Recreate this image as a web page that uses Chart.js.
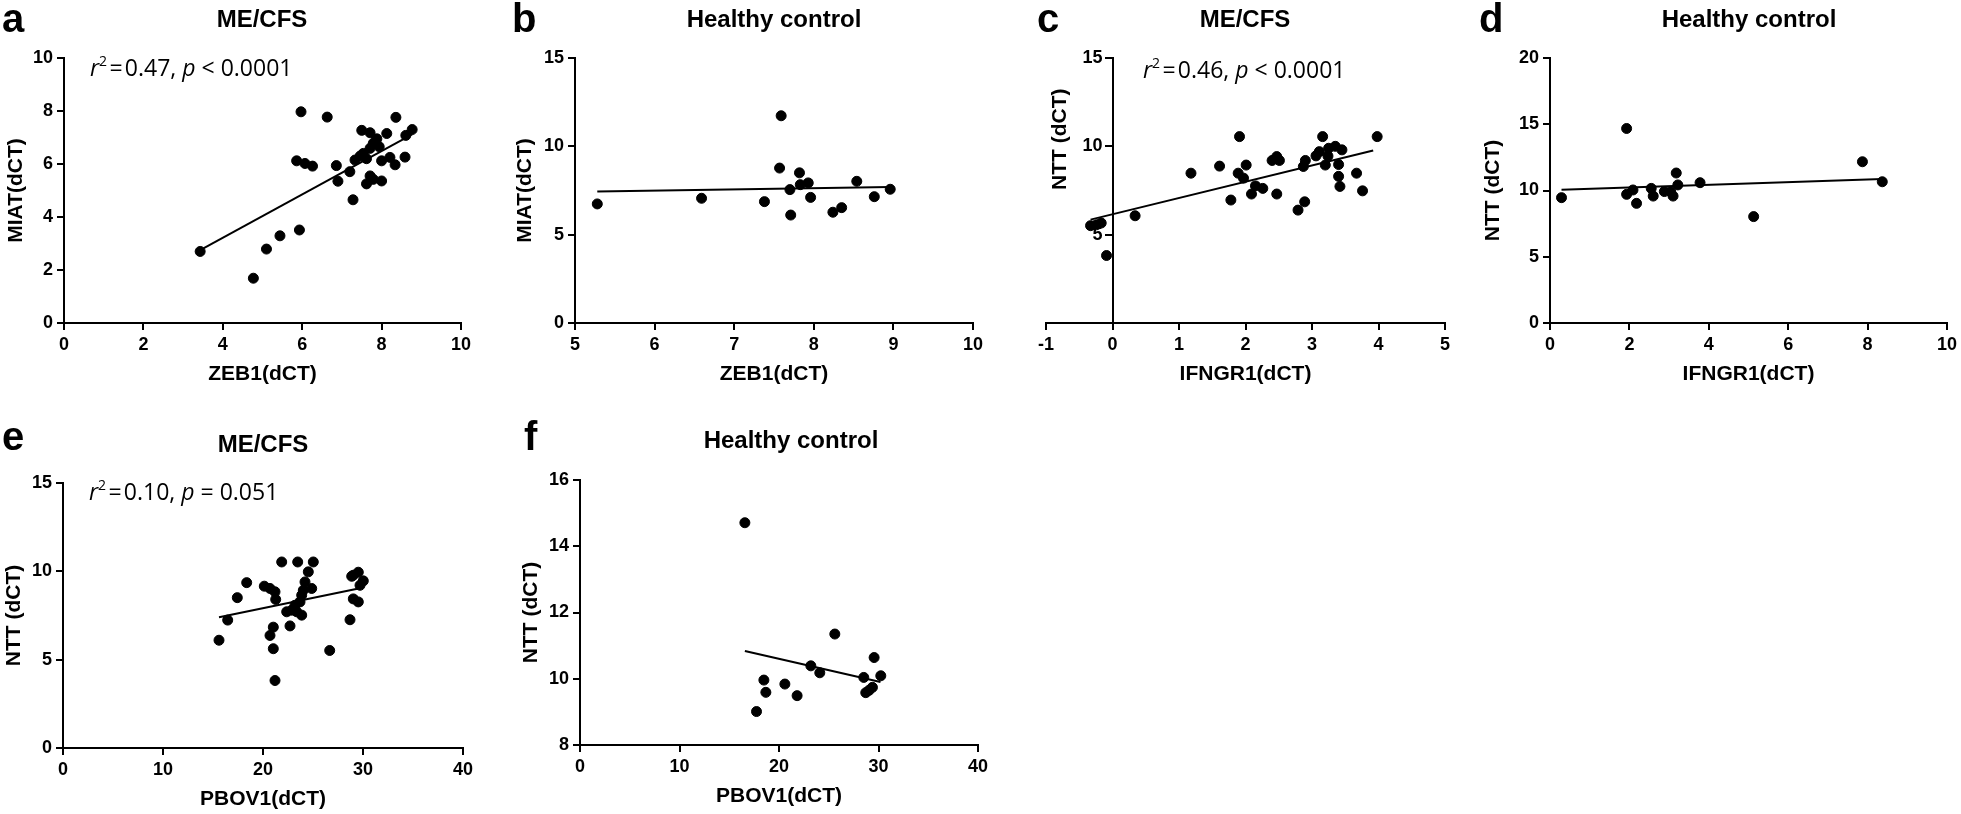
<!DOCTYPE html>
<html>
<head>
<meta charset="utf-8">
<script src="https://cdn.jsdelivr.net/npm/chart.js@4.4.1/dist/chart.umd.min.js"></script>
<style>
  html, body { margin: 0; padding: 0; background: #fff; }
  #page { position: relative; width: 1961px; height: 814px; overflow: hidden; }
  #page canvas { position: absolute; }
</style>
</head>
<body>
<div id="page">
  <canvas id="chartA"></canvas>
  <canvas id="chartB"></canvas>
  <canvas id="chartC"></canvas>
  <canvas id="chartD"></canvas>
  <canvas id="chartE"></canvas>
  <canvas id="chartF"></canvas>
</div>
<script>
// ---- data: [x, y] pairs, fit line end points, tick values ----

// a: ME/CFS, ZEB1 vs MIAT
const meZebMiat = [
  [3.43, 2.70], [4.77, 1.69], [5.10, 2.79], [5.44, 3.29], [5.93, 3.51], [5.97, 7.97],
  [5.86, 6.12], [6.07, 6.02], [6.26, 5.92], [6.63, 7.77], [6.86, 5.94], [6.90, 5.35],
  [7.20, 5.71], [7.28, 4.65], [7.33, 6.15], [7.50, 7.27], [7.46, 6.30], [7.54, 6.40],
  [7.62, 6.20], [7.62, 5.25], [7.71, 7.18], [7.71, 5.55], [7.79, 5.42], [7.71, 6.59],
  [7.79, 6.78], [7.88, 6.95], [7.94, 6.65], [8.00, 5.36], [8.00, 6.12], [8.13, 7.15],
  [8.21, 6.25], [8.34, 5.97], [8.36, 7.76], [8.59, 6.26], [8.61, 7.08], [8.77, 7.30]
];
const meZebMiatFit = [[3.43, 2.75], [8.77, 7.12]];
const aXTicks = [0, 2, 4, 6, 8, 10];
const aYTicks = [0, 2, 4, 6, 8, 10];

// b: healthy control, ZEB1 vs MIAT
const hcZebMiat = [
  [5.28, 6.74], [6.59, 7.06], [7.38, 6.87], [7.59, 11.73], [7.57, 8.77], [7.70, 7.55],
  [7.71, 6.11], [7.82, 8.50], [7.83, 7.83], [7.93, 7.93], [7.96, 7.11], [8.24, 6.27],
  [8.35, 6.53], [8.54, 8.02], [8.76, 7.15], [8.96, 7.57]
];
const hcZebMiatFit = [[5.28, 7.45], [8.96, 7.70]];
const bXTicks = [5, 6, 7, 8, 9, 10];
const bYTicks = [0, 5, 10, 15];

// c: ME/CFS, IFNGR1 vs NTT
const meIfnNtt = [
  [-0.33, 5.51], [-0.24, 5.56], [-0.17, 5.66], [-0.09, 3.82], [0.34, 6.07], [1.18, 8.48],
  [1.61, 8.88], [1.91, 10.55], [1.89, 8.48], [1.97, 8.20], [1.78, 6.96], [2.01, 8.94],
  [2.09, 7.30], [2.15, 7.76], [2.26, 7.62], [2.40, 9.20], [2.47, 9.42], [2.51, 9.20],
  [2.47, 7.30], [2.79, 6.39], [2.89, 6.86], [2.87, 8.86], [2.90, 9.20], [3.06, 9.46],
  [3.11, 9.70], [3.16, 10.55], [3.20, 8.94], [3.24, 9.45], [3.25, 9.89], [3.35, 10.00],
  [3.45, 9.80], [3.40, 8.97], [3.40, 8.30], [3.42, 7.73], [3.67, 8.48], [3.76, 7.48],
  [3.98, 10.55]
];
const meIfnNttFit = [[-0.33, 5.85], [3.92, 9.76]];
const cXTicks = [-1, 0, 1, 2, 3, 4, 5];
const cYTicks = [0, 5, 10, 15];

// d: healthy control, IFNGR1 vs NTT
const hcIfnNtt = [
  [0.29, 9.46], [1.93, 14.68], [1.93, 9.71], [2.09, 10.04], [2.18, 9.03], [2.55, 10.16],
  [2.60, 9.58], [2.88, 9.92], [3.04, 9.90], [3.10, 9.58], [3.18, 11.32], [3.22, 10.42],
  [3.78, 10.59], [5.13, 8.03], [7.87, 12.17], [8.37, 10.66]
];
const hcIfnNttFit = [[0.29, 10.05], [8.37, 10.87]];
const dXTicks = [0, 2, 4, 6, 8, 10];
const dYTicks = [0, 5, 10, 15, 20];

// e: ME/CFS, PBOV1 vs NTT
const mePbovNtt = [
  [15.60, 6.10], [16.47, 7.24], [17.43, 8.51], [18.37, 9.36], [20.13, 9.16], [20.70, 9.03],
  [21.20, 8.84], [21.27, 8.41], [20.70, 6.37], [21.03, 6.84], [21.03, 5.62], [21.20, 3.82],
  [21.87, 10.53], [22.37, 7.71], [22.87, 7.80], [22.70, 6.91], [23.37, 7.71], [23.20, 8.08],
  [23.47, 10.53], [23.70, 8.27], [23.87, 8.65], [23.87, 7.52], [24.03, 8.93], [24.20, 9.40],
  [24.53, 9.97], [24.87, 9.03], [25.03, 10.53], [26.67, 5.52], [28.70, 7.26], [28.87, 9.72],
  [29.03, 9.78], [29.53, 9.95], [29.70, 9.21], [30.03, 9.46], [29.03, 8.44], [29.53, 8.27]
];
const mePbovNttFit = [[15.6, 7.40], [29.8, 9.06]];
const eXTicks = [0, 10, 20, 30, 40];
const eYTicks = [0, 5, 10, 15];

// f: healthy control, PBOV1 vs NTT
const hcPbovNtt = [
  [16.57, 14.71], [17.74, 9.01], [18.48, 9.96], [18.68, 9.59], [20.59, 9.84], [21.82, 9.49],
  [23.20, 10.39], [24.10, 10.18], [25.61, 11.35], [28.52, 10.04], [28.72, 9.58], [29.05, 9.65],
  [29.39, 9.74], [29.56, 10.64], [30.23, 10.09]
];
const hcPbovNttFit = [[16.57, 10.84], [30.2, 9.90]];
const fXTicks = [0, 10, 20, 30, 40];
const fYTicks = [8, 10, 12, 14, 16];

// ---- panel layout (page pixels) ----
const HS = '\u200A'; // hair space, the r2 notes are set tight
const panels = [
  { id: 'chartA', box: [0, 0, 505, 400], plot: [64, 58, 461, 323], pts: meZebMiat, fit: meZebMiatFit,
    xt: aXTicks, yt: aYTicks, xTitle: 'ZEB1(dCT)', yTitle: 'MIAT(dCT)', yOff: 48,
    letter: 'a', letterAt: [2, 32], title: 'ME/CFS', titleAt: [262, 27],
    note: [['r', 'i'], ['2', 's'], [HS + '=' + HS + '0.47, ', ''], ['p', 'i'], [' < 0.0001', '']], noteAt: [90, 76] },
  { id: 'chartB', box: [480, 0, 520, 400], plot: [575, 58, 973, 323], pts: hcZebMiat, fit: hcZebMiatFit,
    xt: bXTicks, yt: bYTicks, xTitle: 'ZEB1(dCT)', yTitle: 'MIAT(dCT)', yOff: 50,
    letter: 'b', letterAt: [512, 32], title: 'Healthy control', titleAt: [774, 27] },
  { id: 'chartC', box: [985, 0, 490, 400], plot: [1046, 58, 1445, 323], pts: meIfnNtt, fit: meIfnNttFit,
    xt: cXTicks, yt: cYTicks, xTitle: 'IFNGR1(dCT)', yTitle: 'NTT (dCT)', crossY: 0, yTitleAt: [1060, 190],
    letter: 'c', letterAt: [1037, 32], title: 'ME/CFS', titleAt: [1245, 27],
    note: [['r', 'i'], ['2', 's'], [HS + '=' + HS + '0.46, ', ''], ['p', 'i'], [' < 0.0001', '']], noteAt: [1143, 78] },
  { id: 'chartD', box: [1470, 0, 491, 400], plot: [1550, 58, 1948, 323], pts: hcIfnNtt, fit: hcIfnNttFit,
    xt: dXTicks, yt: dYTicks, xTitle: 'IFNGR1(dCT)', yTitle: 'NTT (dCT)', yOff: 57,
    letter: 'd', letterAt: [1479, 32], title: 'Healthy control', titleAt: [1749, 27] },
  { id: 'chartE', box: [0, 405, 505, 409], plot: [63, 483, 463, 748], pts: mePbovNtt, fit: mePbovNttFit,
    xt: eXTicks, yt: eYTicks, xTitle: 'PBOV1(dCT)', yTitle: 'NTT (dCT)', yOff: 49,
    letter: 'e', letterAt: [2, 450], title: 'ME/CFS', titleAt: [263, 452],
    note: [['r', 'i'], ['2', 's'], [HS + '=' + HS + '0.10, ', ''], ['p', 'i'], [' = 0.051', '']], noteAt: [89, 500] },
  { id: 'chartF', box: [490, 405, 520, 409], plot: [580, 480, 978, 745], pts: hcPbovNtt, fit: hcPbovNttFit,
    xt: fXTicks, yt: fYTicks, xTitle: 'PBOV1(dCT)', yTitle: 'NTT (dCT)', yOff: 49,
    letter: 'f', letterAt: [524, 450], title: 'Healthy control', titleAt: [791, 448] }
];

Chart.defaults.font.family = '"Liberation Sans", Arial, sans-serif';
Chart.defaults.color = '#000';

const TICK_FONT = { size: 18, weight: 'bold' };
const AXIS_FONT = { size: 21, weight: 'bold', lineHeight: 1.2 };
const X_TITLE_OFF = 51;

// draws panel letter, title, r2 note and (for c) the y title
function textPlugin(p) {
  return {
    id: 'panelText',
    afterDraw(chart) {
      const ctx = chart.ctx;
      const ox = p.box[0], oy = p.box[1];
      ctx.save();
      ctx.fillStyle = '#000';
      ctx.textBaseline = 'alphabetic';
      ctx.textAlign = 'left';
      ctx.font = 'bold 40px "Liberation Sans"';
      ctx.fillText(p.letter, p.letterAt[0] - ox, p.letterAt[1] - oy);
      ctx.textAlign = 'center';
      ctx.font = 'bold 24px "Liberation Sans"';
      ctx.fillText(p.title, p.titleAt[0] - ox, p.titleAt[1] - oy);
      if (p.note) {
        ctx.textAlign = 'left';
        let cx = p.noteAt[0] - ox;
        const cy = p.noteAt[1] - oy;
        p.note.forEach(([t, s]) => {
          ctx.font = (s === 'i' ? 'italic ' : '') + (s === 's' ? 14 : 23) + 'px "Open Sans"';
          ctx.fillText(t, cx, s === 's' ? cy - 10 : cy);
          cx += ctx.measureText(t).width;
        });
      }
      if (p.yTitleAt) {
        ctx.translate(p.yTitleAt[0] - ox, p.yTitleAt[1] - oy);
        ctx.rotate(-Math.PI / 2);
        ctx.textBaseline = 'middle';
        ctx.font = 'bold 21px "Liberation Sans"';
        ctx.fillText(p.yTitle, 0, 0);
      }
      ctx.restore();
    }
  };
}

function axisLook() {
  return {
    grid: { drawOnChartArea: false, color: '#000', lineWidth: 2, tickLength: 7 },
    border: { color: '#000', width: 2 }
  };
}

function makePanel(p) {
  const canvas = document.getElementById(p.id);
  canvas.width = p.box[2];
  canvas.height = p.box[3];
  canvas.style.left = p.box[0] + 'px';
  canvas.style.top = p.box[1] + 'px';

  const lh = AXIS_FONT.size * AXIS_FONT.lineHeight;
  const crossed = p.crossY !== undefined;
  const yWidth = crossed ? 0 : p.yOff + lh / 2;
  const xHeight = X_TITLE_OFF + lh / 2;
  const padding = {
    left: p.plot[0] - p.box[0] - yWidth,
    top: p.plot[1] - p.box[1],
    right: p.box[0] + p.box[2] - p.plot[2],
    bottom: p.box[1] + p.box[3] - p.plot[3] - xHeight
  };

  new Chart(canvas, {
    type: 'scatter',
    data: {
      datasets: [{
        data: p.pts.map(([x, y]) => ({ x, y })),
        pointRadius: 5,
        pointBorderWidth: 1,
        pointBackgroundColor: '#000',
        pointBorderColor: '#000',
        pointHoverRadius: 5
      }, {
        data: p.fit.map(([x, y]) => ({ x, y })),
        showLine: true,
        borderColor: '#000',
        borderWidth: 2,
        pointRadius: 0
      }]
    },
    options: {
      responsive: false,
      animation: false,
      layout: { padding },
      plugins: { legend: { display: false }, tooltip: { enabled: false } },
      scales: {
        x: Object.assign(axisLook(), {
          type: 'linear',
          min: p.xt[0],
          max: p.xt[p.xt.length - 1],
          afterBuildTicks: s => { s.ticks = p.xt.map(v => ({ value: v })); },
          afterFit: s => { s.height = xHeight; },
          ticks: { font: TICK_FONT, padding: 4, maxRotation: 0, autoSkip: false },
          title: { display: true, text: p.xTitle, font: AXIS_FONT, padding: 0 }
        }),
        y: Object.assign(axisLook(), {
          type: 'linear',
          position: crossed ? { x: p.crossY } : 'left',
          min: p.yt[0],
          max: p.yt[p.yt.length - 1],
          afterBuildTicks: s => { s.ticks = p.yt.map(v => ({ value: v })); },
          afterFit: s => { s.width = yWidth; },
          ticks: {
            font: TICK_FONT, padding: 4, autoSkip: false,
            // a crossing axis puts its labels flush on the line, so pad them by hand
            callback: v => crossed ? (v === 0 ? '' : v + '\u00a0\u00a0') : String(v)
          },
          title: { display: !crossed, text: p.yTitle, font: AXIS_FONT, padding: 0 }
        })
      }
    },
    plugins: [textPlugin(p)]
  });
}

panels.forEach(makePanel);
</script>
</body>
</html>
